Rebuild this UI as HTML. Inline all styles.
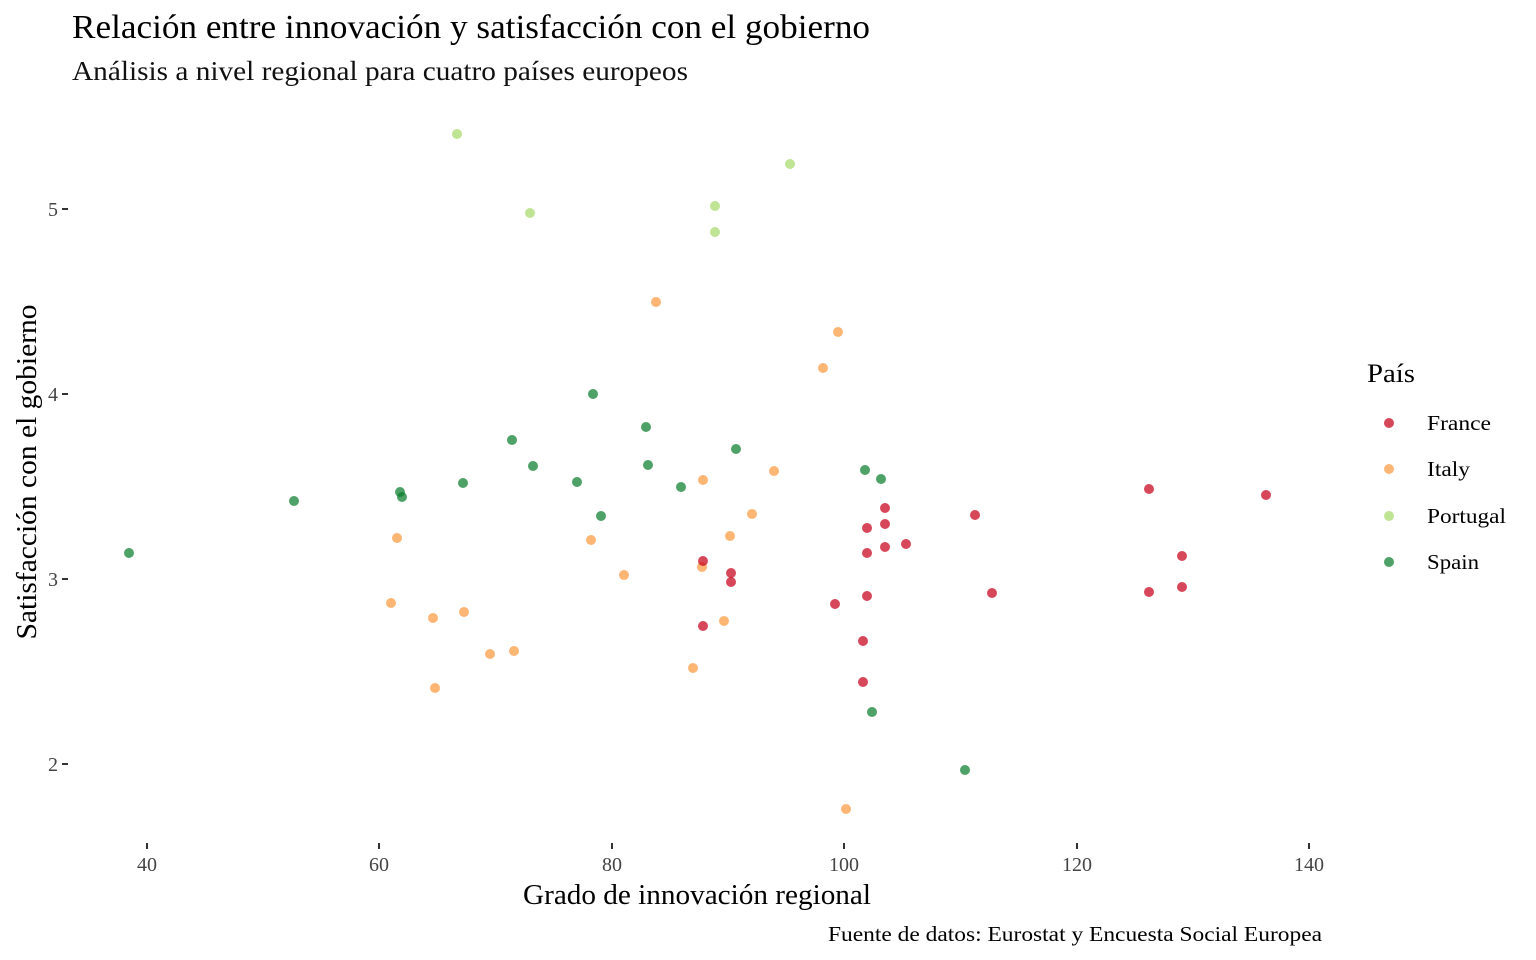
<!DOCTYPE html>
<html><head><meta charset="utf-8"><style>
html,body{margin:0;padding:0;background:#fff;}
svg{display:block;font-family:"Liberation Serif",serif;}
</style></head><body>
<svg width="1536" height="960" viewBox="0 0 1536 960" xmlns="http://www.w3.org/2000/svg">
<rect width="1536" height="960" fill="#fff"/>
<text x="72" y="38" font-size="34" textLength="798" lengthAdjust="spacingAndGlyphs" fill="#000">Relación entre innovación y satisfacción con el gobierno</text>
<text x="72" y="80" font-size="27" textLength="616" lengthAdjust="spacingAndGlyphs" fill="#111">Análisis a nivel regional para cuatro países europeos</text>
<g font-size="20" fill="#444" text-anchor="end">
<text x="58" y="216">5</text><text x="58" y="401">4</text><text x="58" y="586">3</text><text x="58" y="771">2</text>
</g>
<g stroke="#333" stroke-width="2">
<line x1="62" x2="68" y1="209" y2="209"/><line x1="62" x2="68" y1="394" y2="394"/><line x1="62" x2="68" y1="579" y2="579"/><line x1="62" x2="68" y1="764" y2="764"/>
<line x1="147" x2="147" y1="843" y2="849"/><line x1="379" x2="379" y1="843" y2="849"/><line x1="612" x2="612" y1="843" y2="849"/><line x1="844" x2="844" y1="843" y2="849"/><line x1="1077" x2="1077" y1="843" y2="849"/><line x1="1309" x2="1309" y1="843" y2="849"/>
</g>
<g font-size="20" fill="#444" text-anchor="middle">
<text x="147" y="871">40</text><text x="379" y="871">60</text><text x="612" y="871">80</text><text x="844" y="871">100</text><text x="1077" y="871">120</text><text x="1309" y="871">140</text>
</g>
<text x="697" y="904" font-size="28" text-anchor="middle" textLength="348" lengthAdjust="spacingAndGlyphs" fill="#000">Grado de innovación regional</text>
<text transform="translate(36,472) rotate(-90)" font-size="28" text-anchor="middle" textLength="335" lengthAdjust="spacingAndGlyphs" fill="#000">Satisfacción con el gobierno</text>
<text x="1322" y="941" font-size="21" text-anchor="end" textLength="494" lengthAdjust="spacingAndGlyphs" fill="#000">Fuente de datos: Eurostat y Encuesta Social Europea</text>
<g fill-opacity="0.72">
<g fill="#a6d96a">
<circle cx="457" cy="134" r="5"/><circle cx="530" cy="213" r="5"/><circle cx="715" cy="206" r="5"/><circle cx="715" cy="232" r="5"/><circle cx="790" cy="164" r="5"/>
</g>
<g fill="#fd9a40">
<circle cx="656" cy="302" r="5"/><circle cx="838" cy="332" r="5"/><circle cx="823" cy="368" r="5"/><circle cx="703" cy="480" r="5"/><circle cx="774" cy="471" r="5"/><circle cx="752" cy="514" r="5"/><circle cx="730" cy="536" r="5"/><circle cx="591" cy="540" r="5"/><circle cx="397" cy="538" r="5"/><circle cx="702" cy="567" r="5"/><circle cx="624" cy="575" r="5"/><circle cx="391" cy="603" r="5"/><circle cx="433" cy="618" r="5"/><circle cx="464" cy="612" r="5"/><circle cx="724" cy="621" r="5"/><circle cx="490" cy="654" r="5"/><circle cx="514" cy="651" r="5"/><circle cx="693" cy="668" r="5"/><circle cx="435" cy="688" r="5"/><circle cx="846" cy="809" r="5"/>
</g>
<g fill="#c8001a">
<circle cx="703" cy="561" r="5"/><circle cx="731" cy="573" r="5"/><circle cx="731" cy="582" r="5"/><circle cx="703" cy="626" r="5"/><circle cx="835" cy="604" r="5"/><circle cx="867" cy="596" r="5"/><circle cx="863" cy="641" r="5"/><circle cx="863" cy="682" r="5"/><circle cx="867" cy="528" r="5"/><circle cx="885" cy="508" r="5"/><circle cx="885" cy="524" r="5"/><circle cx="885" cy="547" r="5"/><circle cx="867" cy="553" r="5"/><circle cx="906" cy="544" r="5"/><circle cx="975" cy="515" r="5"/><circle cx="992" cy="593" r="5"/><circle cx="1149" cy="489" r="5"/><circle cx="1149" cy="592" r="5"/><circle cx="1182" cy="556" r="5"/><circle cx="1182" cy="587" r="5"/><circle cx="1266" cy="495" r="5"/>
</g>
<g fill="#0a7d2c">
<circle cx="129" cy="553" r="5"/><circle cx="294" cy="501" r="5"/><circle cx="400" cy="492" r="5"/><circle cx="402" cy="497" r="5"/><circle cx="463" cy="483" r="5"/><circle cx="512" cy="440" r="5"/><circle cx="533" cy="466" r="5"/><circle cx="577" cy="482" r="5"/><circle cx="593" cy="394" r="5"/><circle cx="601" cy="516" r="5"/><circle cx="646" cy="427" r="5"/><circle cx="648" cy="465" r="5"/><circle cx="681" cy="487" r="5"/><circle cx="736" cy="449" r="5"/><circle cx="865" cy="470" r="5"/><circle cx="881" cy="479" r="5"/><circle cx="872" cy="712" r="5"/><circle cx="965" cy="770" r="5"/>
</g>
<circle cx="1389" cy="423" r="5" fill="#c8001a"/>
<circle cx="1389" cy="469" r="5" fill="#fd9a40"/>
<circle cx="1389" cy="516" r="5" fill="#a6d96a"/>
<circle cx="1389" cy="562" r="5" fill="#0a7d2c"/>
</g>
<text x="1367" y="382" font-size="26" textLength="48" lengthAdjust="spacingAndGlyphs" fill="#000">País</text>
<g font-size="21" fill="#000">
<text x="1427" y="430" textLength="64" lengthAdjust="spacingAndGlyphs">France</text><text x="1427" y="476" textLength="43" lengthAdjust="spacingAndGlyphs">Italy</text><text x="1427" y="523" textLength="79" lengthAdjust="spacingAndGlyphs">Portugal</text><text x="1427" y="569" textLength="52" lengthAdjust="spacingAndGlyphs">Spain</text>
</g>
</svg>
</body></html>
